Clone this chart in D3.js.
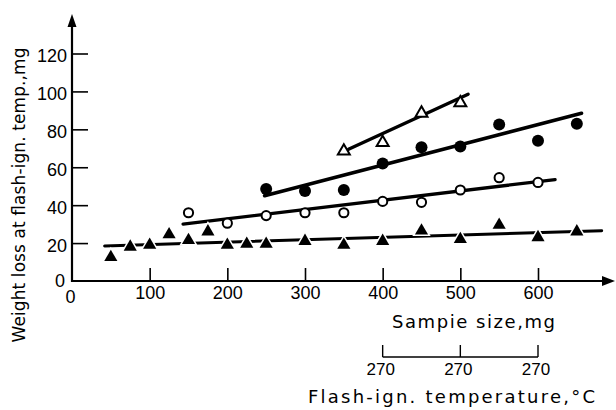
<!DOCTYPE html>
<html><head><meta charset="utf-8">
<script src="https://cdn.jsdelivr.net/npm/d3@7"></script>
<style>
body{margin:0;background:#fff}
text{font-family:"Liberation Sans",Arial,sans-serif;fill:#000}
.title{font-family:"DejaVu Sans",sans-serif}
</style>
</head><body>
<svg id="c" width="616" height="410"></svg>
<script>
// ---- data ----
const xTicks = [0, 100, 200, 300, 400, 500, 600];
const yTicks = [0, 20, 40, 60, 80, 100, 120];

const filledTriX = [50, 75, 100, 125, 150, 175, 200, 225, 250, 300, 350, 400, 450, 500, 550, 600, 650];
const filledTriY = [12.5, 18, 19, 24.5, 21.5, 26, 19, 19.5, 19.5, 21, 19, 21, 26.5, 22, 29.5, 23, 26];

const openCircX = [150, 200, 250, 300, 350, 400, 450, 500, 550, 600];
const openCircY = [36, 30.5, 34.5, 36, 36, 42, 41.5, 48, 54.5, 52];

const filledCircX = [250, 300, 350, 400, 450, 500, 550, 600, 650];
const filledCircY = [48.5, 47.5, 48, 62, 70.5, 71, 82.5, 74, 83];

const openTriX = [350, 400, 450, 500];
const openTriY = [68.5, 73, 88.5, 94];

// fitted straight lines (endpoints, sample size mg / weight loss mg)
const fitFilledTri  = [[42, 18.5], [682, 26.5]];
const fitOpenCirc   = [[143, 30], [622, 53.5]];
const fitFilledCirc = [[248, 45], [656, 88.5]];
const fitOpenTri    = [[356, 69.5], [510, 98.5]];

const tempTickX = [400, 500, 600];
const tempLabels = ["270", "270", "270"];

const xTitle = "Sampie size,mg";
const tempTitle = "Flash-ign. temperature,°C";
const yTitle = "Weight loss at flash-ign. temp.,mg";

// ---- drawing ----
const svg = d3.select("#c");
const x = d3.scaleLinear([0, 600], [72, 538]);
const y = d3.scaleLinear([0, 120], [281, 53.5]);
const axisY = 281, axisX = 72;

// axes lines with arrows
svg.append("line").attr("x1", axisX - 1).attr("x2", 604).attr("y1", axisY).attr("y2", axisY)
  .attr("stroke", "#000").attr("stroke-width", 2.2);
svg.append("path").attr("d", `M615,${axisY} L602,${axisY-5} L602,${axisY+5} Z`).attr("fill", "#000");
svg.append("line").attr("x1", axisX).attr("x2", axisX).attr("y1", axisY + 1).attr("y2", 26)
  .attr("stroke", "#000").attr("stroke-width", 2.2);
svg.append("path").attr("d", `M${axisX},14 L${axisX-4.5},27 L${axisX+4.5},27 Z`).attr("fill", "#000");

// x axis ticks
const gx = svg.append("g").attr("transform", `translate(0,${axisY})`)
  .call(d3.axisBottom(x).tickValues(xTicks).tickFormat(d3.format("d"))
    .tickSizeInner(-13).tickSizeOuter(0).tickPadding(5));
gx.select(".domain").remove();
gx.selectAll(".tick line").attr("stroke-width", 1.6);
gx.selectAll(".tick text").attr("font-size", 18).attr("font-family", "Liberation Sans");
gx.selectAll(".tick").filter(d => d === 0).select("line").remove();
gx.selectAll(".tick").filter(d => d === 0).select("text").attr("dx", -2).attr("y", 9);

// y axis ticks
const gy = svg.append("g").attr("transform", `translate(${axisX},0)`)
  .call(d3.axisLeft(y).tickValues(yTicks).tickFormat(d3.format("d"))
    .tickSizeInner(-16).tickSizeOuter(0).tickPadding(5));
gy.select(".domain").remove();
gy.selectAll(".tick line").attr("stroke-width", 1.6);
gy.selectAll(".tick text").attr("font-size", 18).attr("font-family", "Liberation Sans").attr("dy", "0.45em");
gy.selectAll(".tick").filter(d => d === 0).select("line").remove();
gy.selectAll(".tick").filter(d => d === 0).select("text").attr("x", -7).attr("dy", "0.3em");

// fitted lines
const line = d3.line().x(d => x(d[0])).y(d => y(d[1]));
[[fitFilledTri, 3], [fitOpenCirc, 3.3], [fitFilledCirc, 3.6], [fitOpenTri, 3.4]].forEach(([pts, w]) => {
  svg.append("path").attr("d", line(pts)).attr("fill", "none").attr("stroke", "#000")
    .attr("stroke-width", w).attr("stroke-linecap", "round");
});

// markers
const tri = d3.symbol().type(d3.symbolTriangle);
svg.append("g").selectAll("path").data(filledTriX.map((v, i) => [v, filledTriY[i]])).join("path")
  .attr("d", tri.size(75)).attr("transform", d => `translate(${x(d[0])},${y(d[1])})`)
  .attr("fill", "#000").attr("stroke", "#fff").attr("stroke-width", 3).attr("paint-order", "stroke");

svg.append("g").selectAll("path").data(openTriX.map((v, i) => [v, openTriY[i]])).join("path")
  .attr("d", tri.size(62)).attr("transform", d => `translate(${x(d[0])},${y(d[1])})`)
  .attr("fill", "#fff").attr("stroke", "#000").attr("stroke-width", 2);

svg.append("g").selectAll("circle").data(openCircX.map((v, i) => [v, openCircY[i]])).join("circle")
  .attr("cx", d => x(d[0])).attr("cy", d => y(d[1])).attr("r", 4.6)
  .attr("fill", "#fff").attr("stroke", "#000").attr("stroke-width", 2);

svg.append("g").selectAll("circle").data(filledCircX.map((v, i) => [v, filledCircY[i]])).join("circle")
  .attr("cx", d => x(d[0])).attr("cy", d => y(d[1])).attr("r", 6)
  .attr("fill", "#000");

// x title
svg.append("text").attr("class", "title").attr("x", 555).attr("y", 328).attr("text-anchor", "end")
  .attr("font-size", 18).attr("textLength", 163).attr("lengthAdjust", "spacing").text(xTitle);

// temperature bracket scale
const by = 357;
svg.append("line").attr("x1", x(tempTickX[0])).attr("x2", x(tempTickX[tempTickX.length - 1]))
  .attr("y1", by).attr("y2", by).attr("stroke", "#000").attr("stroke-width", 1.4);
svg.append("g").selectAll("line").data(tempTickX).join("line")
  .attr("x1", d => x(d)).attr("x2", d => x(d)).attr("y1", by).attr("y2", by - 12)
  .attr("stroke", "#000").attr("stroke-width", 1.4);
svg.append("g").selectAll("text").data(tempTickX).join("text")
  .attr("x", d => x(d) - 2).attr("y", 375).attr("text-anchor", "middle").attr("font-size", 17)
  .text((d, i) => tempLabels[i]);
svg.append("text").attr("class", "title").attr("x", 308).attr("y", 403).attr("font-size", 18)
  .attr("textLength", 287).attr("lengthAdjust", "spacing").text(tempTitle);

// y title
svg.append("text").attr("class", "title").attr("transform", "translate(25,195) rotate(-90)").attr("text-anchor", "middle")
  .attr("font-size", 17).attr("textLength", 295).attr("lengthAdjust", "spacing").text(yTitle);
</script>
</body></html>
